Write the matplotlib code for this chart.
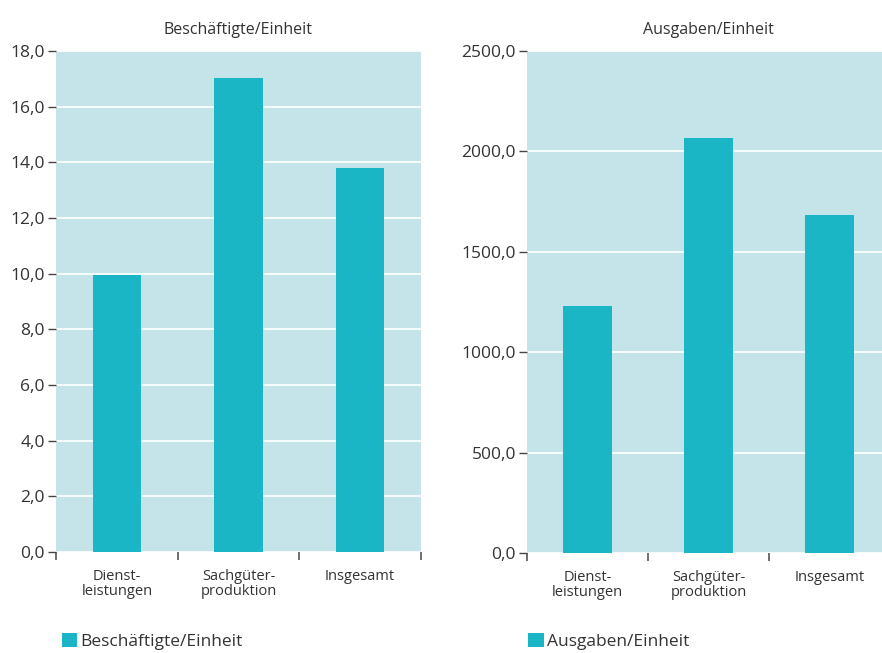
import matplotlib
matplotlib.use("Agg")
import matplotlib.pyplot as plt
from matplotlib.patches import Patch
from matplotlib.ticker import FuncFormatter

# Werte je Wirtschaftsbereich
kategorien = ["Dienst-\nleistungen", "Sachgüter-\nproduktion", "Insgesamt"]
beschaeftigte = [9.95, 17.03, 13.8]
ausgaben = [1230.0, 2067.0, 1683.0]

bar_farbe = "#1bb6c5"
hg_farbe = "#c5e4e9"
text_farbe = "#333333"

plt.rcParams["font.family"] = ["Open Sans", "DejaVu Sans"]
plt.rcParams["text.color"] = text_farbe

fig = plt.figure(figsize=(8.82, 6.53), dpi=100)
ax1 = fig.add_axes([0.0635, 0.1547, 0.4138, 0.7672])
# rechtes Diagramm läuft über den Bildrand hinaus
ax2 = fig.add_axes([0.5975, 0.1531, 0.4116, 0.7688])


def komma(v, pos):
    return "{:.1f}".format(v).replace(".", ",")


def zeichne(ax, werte, titel, yticks, label):
    x = list(range(len(kategorien)))
    ax.set_facecolor(hg_farbe)
    ax.set_axisbelow(True)
    ax.bar(x, werte, width=0.4, color=bar_farbe, zorder=2)
    ax.set_xlim(-0.5, len(kategorien) - 0.5)
    ax.set_ylim(yticks[0], yticks[-1])
    ax.set_yticks(yticks)
    ax.yaxis.set_major_formatter(FuncFormatter(komma))
    ax.yaxis.grid(True, color="white", linewidth=1.2)
    ax.set_xticks(x)
    ax.set_xticklabels(kategorien, fontsize=10.5, color=text_farbe, linespacing=1.0)
    ax.set_xticks([i - 0.5 for i in range(len(kategorien) + 1)], minor=True)
    ax.tick_params(axis="x", which="major", length=0, pad=12)
    ax.tick_params(axis="x", which="minor", length=6, width=1.2, color="#555555")
    ax.tick_params(axis="y", length=6, width=1.0, color="#444444",
                   labelsize=12.5, labelcolor=text_farbe, pad=2)
    for s in ax.spines.values():
        s.set_visible(False)
    ax.set_title(titel, fontsize=11.5, color=text_farbe, pad=12)
    return Patch(facecolor=bar_farbe, label=label)


h1 = zeichne(ax1, beschaeftigte, "Beschäftigte/Einheit",
             [0, 2, 4, 6, 8, 10, 12, 14, 16, 18], "Beschäftigte/Einheit")
h2 = zeichne(ax2, ausgaben, "Ausgaben/Einheit",
             [0, 500, 1000, 1500, 2000, 2500], "Ausgaben/Einheit")

for h, xpos in [(h1, 0.062), (h2, 0.591)]:
    fig.legend(handles=[h], loc="lower left", bbox_to_anchor=(xpos, -0.006),
               frameon=False, fontsize=12.5, handlelength=0.9, handleheight=0.9,
               handletextpad=0.2, borderaxespad=0)

fig.savefig("out.png", dpi=100)
